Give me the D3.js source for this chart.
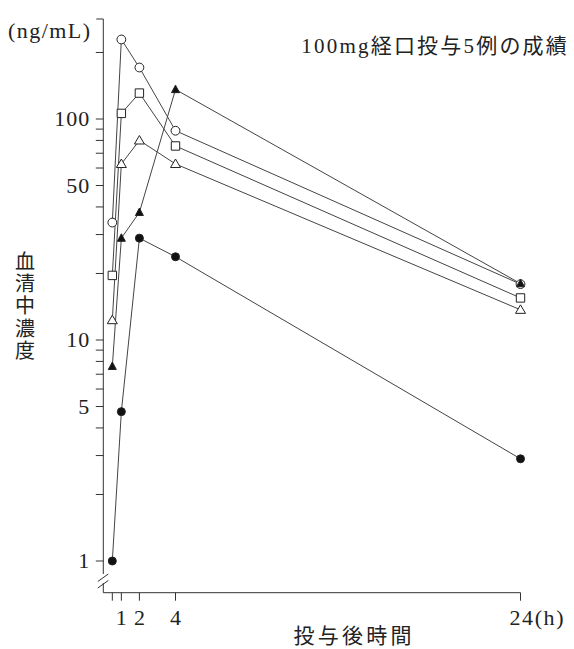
<!DOCTYPE html>
<html>
<head>
<meta charset="utf-8">
<script src="https://cdn.jsdelivr.net/npm/d3@7"></script>
<style>
  body { margin: 0; background: #fff; }
  svg { display: block; }
  text { fill: #222; }
</style>
</head>
<body>
<div id="chart"></div>
<script>
// Sampling times after dosing (h)
var times = [0.5, 1, 2, 4, 24];

// Serum concentration per subject (ng/mL)
var openCircle = [34, 229, 171, 88.5, 17.9];
var openSquare = [19.6, 106, 131, 75.5, 15.5];
var openTriangle = [12.3, 62.6, 80, 62.6, 13.7];
var filledTriangle = [7.6, 28.9, 37.8, 136, 18];
var filledCircle = [1, 4.74, 28.9, 23.8, 2.9];

// Axis ticks
var yLabelTicks = [1, 5, 10, 50, 100];
var yMinorTicks = [2, 3, 4, 6, 7, 8, 9, 20, 30, 40, 60, 70, 80, 90, 200];
var xTicks = [0.5, 1, 2, 4, 24];
var xTickLabels = { 1: '1', 2: '2', 4: '4', 24: '24(h)' };

var series = [
  { values: openTriangle, shape: 'triangle', filled: false },
  { values: openSquare, shape: 'square', filled: false },
  { values: openCircle, shape: 'circle', filled: false },
  { values: filledCircle, shape: 'circle', filled: true },
  { values: filledTriangle, shape: 'triangle', filled: true },
];

var width = 574, height = 649;
var serif = '"Liberation Serif", "Noto Sans CJK JP", serif';
var cjk = '"Noto Sans CJK JP", sans-serif';

// The time axis of the original is compressed after 4 h
var x = d3.scaleLinear().domain([0, 4, 24]).range([103.3, 175.5, 520.5]);
var y = d3.scaleLog().domain([1, 100]).range([561, 119]);

var axisTop = 19, axisBottom = 592.7;

var svg = d3.select('#chart').append('svg')
  .attr('width', width)
  .attr('height', height);

var axisColor = '#333';

// y axis line, with a break near the bottom
var axisG = svg.append('g').attr('stroke', axisColor).attr('stroke-width', 1).attr('fill', 'none');
axisG.append('line')
  .attr('x1', x(0)).attr('x2', x(0))
  .attr('y1', axisTop).attr('y2', 574);
axisG.append('line')
  .attr('x1', x(0)).attr('x2', x(0))
  .attr('y1', 583).attr('y2', axisBottom);
axisG.append('line')
  .attr('x1', x(0) - 5.5).attr('y1', 581.5)
  .attr('x2', x(0) + 5).attr('y2', 574);
axisG.append('line')
  .attr('x1', x(0) - 5.5).attr('y1', 588)
  .attr('x2', x(0) + 5).attr('y2', 580.5);

// top tick of the y axis
axisG.append('line')
  .attr('x1', x(0) - 7).attr('x2', x(0))
  .attr('y1', axisTop).attr('y2', axisTop);

// y ticks
axisG.selectAll('line.ytick')
  .data(yLabelTicks.concat(yMinorTicks))
  .join('line')
  .attr('class', 'ytick')
  .attr('x1', x(0) - 7.5).attr('x2', x(0))
  .attr('y1', (d) => y(d)).attr('y2', (d) => y(d));

svg.append('g')
  .selectAll('text')
  .data(yLabelTicks)
  .join('text')
  .attr('x', x(0) - 13)
  .attr('y', (d) => y(d))
  .attr('dy', '0.34em')
  .attr('text-anchor', 'end')
  .attr('font-family', serif)
  .attr('font-size', 22)
  .attr('letter-spacing', 1)
  .text((d) => d);

// x axis
axisG.append('line')
  .attr('x1', x(0)).attr('x2', x(24))
  .attr('y1', axisBottom).attr('y2', axisBottom);
axisG.selectAll('line.xtick')
  .data(xTicks)
  .join('line')
  .attr('class', 'xtick')
  .attr('x1', (d) => x(d)).attr('x2', (d) => x(d))
  .attr('y1', axisBottom).attr('y2', axisBottom + 8);

svg.append('g')
  .selectAll('text')
  .data(xTicks.filter((d) => xTickLabels[d]))
  .join('text')
  .attr('x', (d) => (d === 24 ? x(d) - 11 : x(d)))
  .attr('y', 625)
  .attr('text-anchor', (d) => (d === 24 ? 'start' : 'middle'))
  .attr('font-family', serif)
  .attr('font-size', 22)
  .each(function (d) {
    if (d === 24) d3.select(this).attr('textLength', 54).attr('lengthAdjust', 'spacing');
  })
  .text((d) => xTickLabels[d]);

// unit label
svg.append('text')
  .attr('x', 8).attr('y', 38)
  .attr('font-family', serif)
  .attr('font-size', 22)
  .attr('textLength', 82)
  .attr('lengthAdjust', 'spacing')
  .text('(ng/mL)');

// title
svg.append('text')
  .attr('x', 569).attr('y', 53)
  .attr('text-anchor', 'end')
  .attr('font-family', serif)
  .attr('font-size', 21)
  .attr('letter-spacing', 2.2)
  .text('100mg経口投与5例の成績');

// vertical y title
svg.append('text')
  .attr('x', 25)
  .attr('y', 251)
  .attr('writing-mode', 'vertical-rl')
  .attr('font-family', cjk)
  .attr('font-size', 20)
  .attr('letter-spacing', 2.4)
  .text('血清中濃度');

// x title
svg.append('text')
  .attr('x', 352.5).attr('y', 643)
  .attr('text-anchor', 'middle')
  .attr('font-family', cjk)
  .attr('font-size', 21)
  .attr('textLength', 118)
  .attr('lengthAdjust', 'spacing')
  .text('投与後時間');

// lines
var line = d3.line()
  .x((d, i) => x(times[i]))
  .y((d) => y(d));

svg.append('g')
  .selectAll('path')
  .data(series)
  .join('path')
  .attr('d', (s) => line(s.values))
  .attr('fill', 'none')
  .attr('stroke', '#444')
  .attr('stroke-width', 1);

// markers
function markerPath(shape, filled) {
  if (shape === 'circle') {
    var r = filled ? 4 : 4.4;
    return 'M' + r + ',0A' + r + ',' + r + ' 0 1,1 ' + -r + ',0A' + r + ',' + r + ' 0 1,1 ' + r + ',0Z';
  }
  if (shape === 'square') return 'M-4.2,-4.2H4.2V4.2H-4.2Z';
  var w = filled ? 4 : 5, h = filled ? 7.5 : 8.5;
  return 'M0,' + -h * 0.58 + 'L' + w + ',' + h * 0.42 + 'L' + -w + ',' + h * 0.42 + 'Z';
}

series.forEach(function (s) {
  svg.append('g')
    .selectAll('path')
    .data(s.values)
    .join('path')
    .attr('transform', (d, i) => `translate(${x(times[i])},${y(d)})`)
    .attr('d', markerPath(s.shape, s.filled))
    .attr('fill', s.filled ? '#111' : '#fff')
    .attr('stroke', '#222')
    .attr('stroke-width', 1);
});
</script>
</body>
</html>
